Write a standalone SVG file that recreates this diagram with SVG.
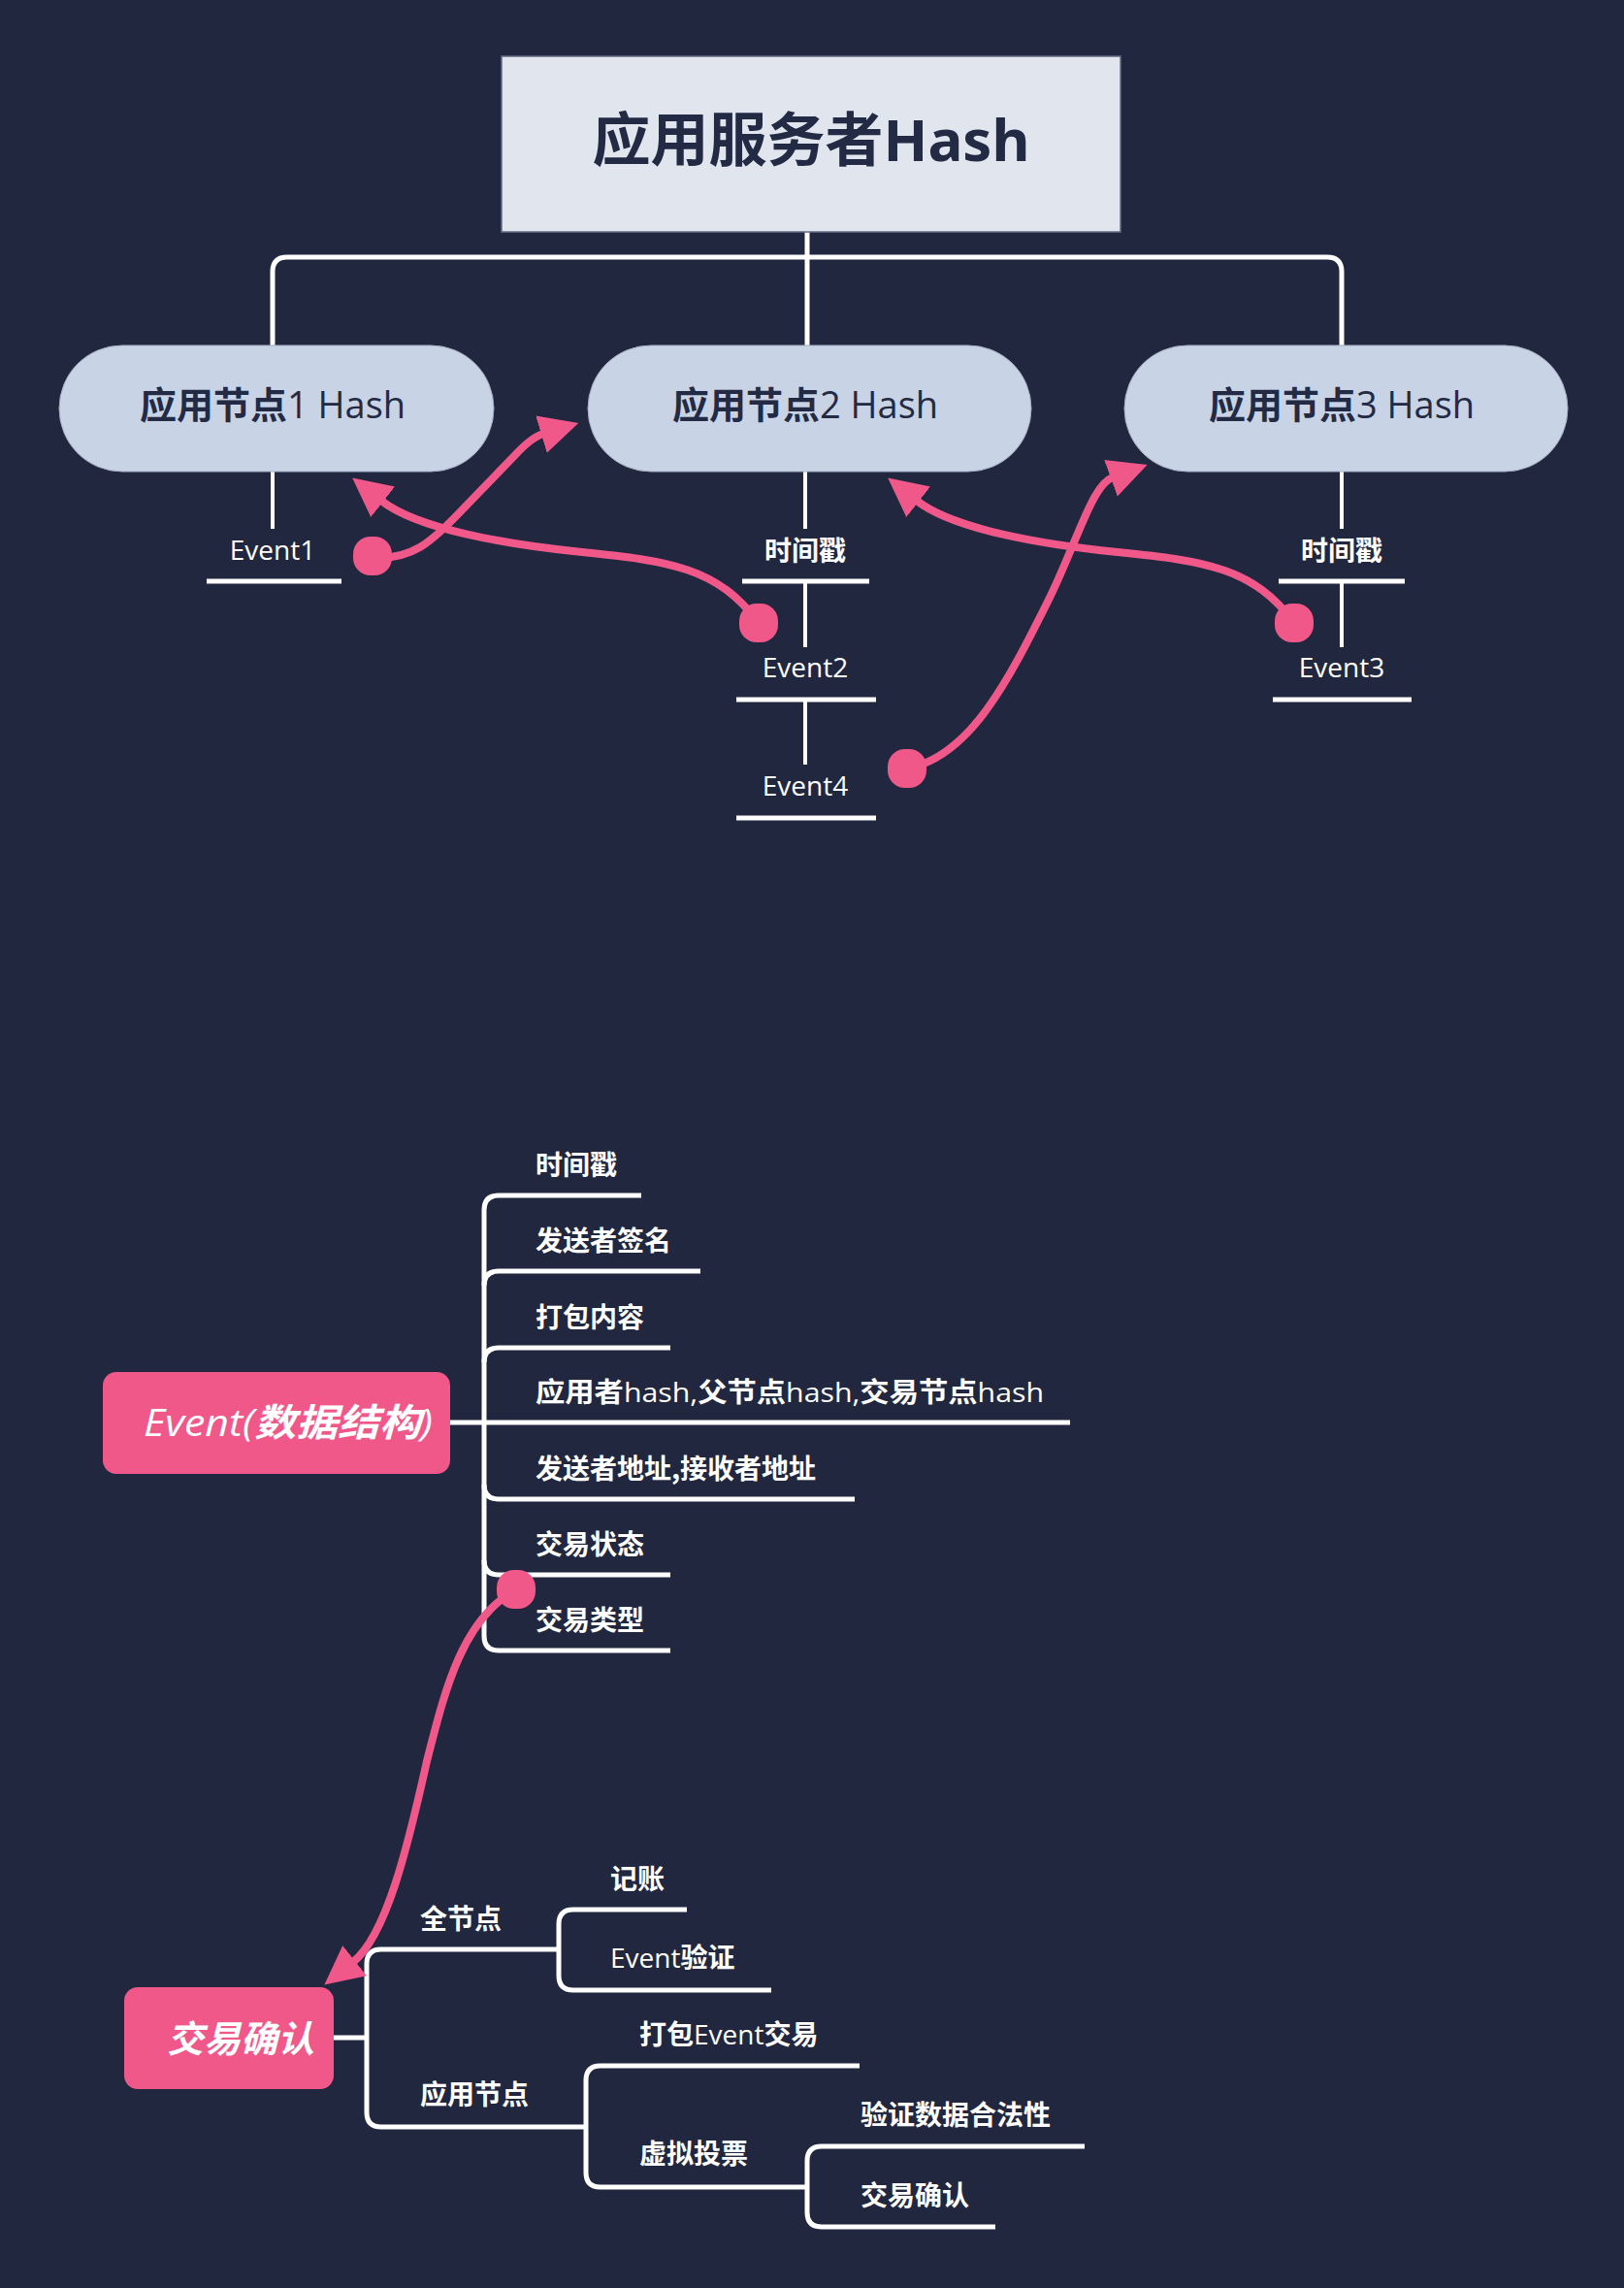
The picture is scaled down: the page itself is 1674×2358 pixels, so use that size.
<svg xmlns="http://www.w3.org/2000/svg" width="1674" height="2358" viewBox="0 0 1674 2358">
<defs>
<style>
.ln{fill:none;stroke:#ffffff;stroke-width:5;stroke-linejoin:round}
.thin{fill:none;stroke:#ffffff;stroke-width:4}
.pk{fill:none;stroke:#f0588a;stroke-width:8;stroke-linecap:round}
.dot{fill:#f0588a}
.cjk{font-family:"Noto Sans CJK SC","Noto Sans",sans-serif;font-weight:700}
.lat{font-family:"Open Sans","Noto Sans CJK SC",sans-serif;font-weight:400}
.wt{fill:#ffffff;font-size:28px}
.dk{fill:#232a44}
</style>
<marker id="ah" markerUnits="userSpaceOnUse" markerWidth="40" markerHeight="40" viewBox="0 0 38 38" refX="2" refY="19" orient="auto">
<path d="M0,0 L38,19 L0,38 z" fill="#f0588a"/>
</marker>
</defs>
<rect x="0" y="0" width="1674" height="2358" fill="#21273e"/>

<g id="connectors">
<path class="ln" d="M832,239 L832,265"/>
<path class="ln" d="M281,356 L281,280 Q281,265 296,265 L1368,265 Q1383,265 1383,280 L1383,356"/>
<path class="ln" d="M832,265 L832,356"/>
<path class="thin" d="M281,486 L281,545"/>
<path class="thin" d="M830,486 L830,545"/>
<path class="thin" d="M1383,486 L1383,545"/>
<path class="thin" d="M830,599 L830,667"/>
<path class="thin" d="M830,721 L830,788"/>
<path class="thin" d="M1383,599 L1383,667"/>
<path class="ln" d="M213,599 L352,599"/>
<path class="ln" d="M765,599 L896,599"/>
<path class="ln" d="M759,721 L903,721"/>
<path class="ln" d="M759,843 L903,843"/>
<path class="ln" d="M1318,599 L1448,599"/>
<path class="ln" d="M1312,721 L1455,721"/>

<path class="ln" d="M464,1466 L1103,1466"/>
<path class="ln" d="M661,1232 L514,1232 Q499,1232 499,1247 L499,1686 Q499,1701 514,1701 L691,1701"/>
<path class="ln" d="M499,1325 Q499,1310 514,1310 L722,1310"/>
<path class="ln" d="M499,1404 Q499,1389 514,1389 L691,1389"/>
<path class="ln" d="M499,1530 Q499,1545 514,1545 L881,1545"/>
<path class="ln" d="M499,1608 Q499,1623 514,1623 L691,1623"/>

<path class="ln" d="M344,2100 L378,2100"/>
<path class="ln" d="M576,2009 L393,2009 Q378,2009 378,2024 L378,2177 Q378,2192 393,2192 L604,2192"/>
<path class="ln" d="M708,1968 L591,1968 Q576,1968 576,1983 L576,2036 Q576,2051 591,2051 L795,2051"/>
<path class="ln" d="M886,2129 L619,2129 Q604,2129 604,2144 L604,2239 Q604,2254 619,2254 L832,2254"/>
<path class="ln" d="M1118,2212 L847,2212 Q832,2212 832,2227 L832,2280 Q832,2295 847,2295 L1026,2295"/>

<path class="pk" marker-end="url(#ah)" d="M384,575 C425,577 445,558 472,530 L530,470 C541,458 550,450 560,447"/>
<path class="pk" marker-end="url(#ah)" d="M782,642 C740,585 690,578 600,569 C520,561 430,545 393,516"/>
<path class="pk" marker-end="url(#ah)" d="M1334,642 C1292,585 1242,578 1152,569 C1072,561 982,545 945,516"/>
<path class="pk" marker-end="url(#ah)" d="M935,792 C1000,780 1040,700 1080,620 C1110,560 1125,500 1147,492"/>
<path class="pk" marker-end="url(#ah)" d="M532,1638 C475,1670 458,1745 440,1815 C420,1905 398,1995 364,2022"/>
<rect class="dot" x="364" y="553" width="40" height="40" rx="18"/>
<rect class="dot" x="762" y="622" width="40" height="40" rx="18"/>
<rect class="dot" x="1314" y="622" width="40" height="40" rx="18"/>
<rect class="dot" x="915" y="772" width="40" height="40" rx="18"/>
<rect class="dot" x="512" y="1618" width="40" height="40" rx="18"/>
</g>

<g id="root">
<rect x="517" y="58" width="638" height="181" fill="#e0e5ee" stroke="#646c84" stroke-width="1.5"/>
<text x="836" y="166" text-anchor="middle" class="cjk dk" font-size="60">应用服务者<tspan font-family="Noto Sans, sans-serif">Hash</tspan></text>
</g>

<g id="node1">
<rect x="61" y="356" width="448" height="130" rx="65" fill="#c8d3e5" stroke="#a3aec3" stroke-width="1"/>
<text x="281" y="431" text-anchor="middle" font-size="38" class="dk"><tspan class="cjk">应用节点</tspan><tspan class="lat">1 Hash</tspan></text>
</g>
<g id="node2">
<rect x="606" y="356" width="457" height="130" rx="65" fill="#c8d3e5" stroke="#a3aec3" stroke-width="1"/>
<text x="830" y="431" text-anchor="middle" font-size="38" class="dk"><tspan class="cjk">应用节点</tspan><tspan class="lat">2 Hash</tspan></text>
</g>
<g id="node3">
<rect x="1159" y="356" width="457" height="130" rx="65" fill="#c8d3e5" stroke="#a3aec3" stroke-width="1"/>
<text x="1383" y="431" text-anchor="middle" font-size="38" class="dk"><tspan class="cjk">应用节点</tspan><tspan class="lat">3 Hash</tspan></text>
</g>

<g id="event1"><text x="281" y="577" text-anchor="middle" class="lat wt">Event1</text></g>
<g id="ts2"><text x="830" y="578" text-anchor="middle" class="cjk wt" font-size="27">时间戳</text></g>
<g id="event2"><text x="830" y="698" text-anchor="middle" class="lat wt">Event2</text></g>
<g id="event4"><text x="830" y="820" text-anchor="middle" class="lat wt">Event4</text></g>
<g id="ts3"><text x="1383" y="578" text-anchor="middle" class="cjk wt" font-size="27">时间戳</text></g>
<g id="event3"><text x="1383" y="698" text-anchor="middle" class="lat wt">Event3</text></g>

<g id="event-struct">
<rect x="106" y="1414" width="358" height="105" rx="14" fill="#f0588a"/>
<text x="148" y="1480" font-size="39" fill="#ffffff" font-style="italic" textLength="298" lengthAdjust="spacingAndGlyphs"><tspan class="lat">Event(</tspan><tspan class="cjk">数据结构</tspan><tspan class="lat">)</tspan></text>
</g>
<g id="f1"><text x="552" y="1211" class="cjk wt">时间戳</text></g>
<g id="f2"><text x="552" y="1289" class="cjk wt">发送者签名</text></g>
<g id="f3"><text x="552" y="1368" class="cjk wt">打包内容</text></g>
<g id="f4"><text x="552" y="1445" class="wt" textLength="524" lengthAdjust="spacingAndGlyphs"><tspan class="cjk">应用者</tspan><tspan class="lat">hash,</tspan><tspan class="cjk">父节点</tspan><tspan class="lat">hash,</tspan><tspan class="cjk">交易节点</tspan><tspan class="lat">hash</tspan></text></g>
<g id="f5"><text x="552" y="1524" class="cjk wt">发送者地址,接收者地址</text></g>
<g id="f6"><text x="552" y="1602" class="cjk wt">交易状态</text></g>
<g id="f7"><text x="552" y="1680" class="cjk wt">交易类型</text></g>

<g id="tx-confirm">
<rect x="128" y="2048" width="216" height="105" rx="14" fill="#f0588a"/>
<text x="172" y="2115" font-size="38" fill="#ffffff" font-style="italic" class="cjk">交易确认</text>
</g>
<g id="fullnode"><text x="433" y="1988" class="cjk wt">全节点</text></g>
<g id="appnode"><text x="433" y="2169" class="cjk wt">应用节点</text></g>
<g id="bookkeeping"><text x="629" y="1947" class="cjk wt">记账</text></g>
<g id="eventverify"><text x="629" y="2028" class="wt"><tspan class="lat">Event</tspan><tspan class="cjk">验证</tspan></text></g>
<g id="pack"><text x="659" y="2107" class="wt"><tspan class="cjk">打包</tspan><tspan class="lat">Event</tspan><tspan class="cjk">交易</tspan></text></g>
<g id="vote"><text x="659" y="2230" class="cjk wt">虚拟投票</text></g>
<g id="verifydata"><text x="887" y="2190" class="cjk wt">验证数据合法性</text></g>
<g id="confirm2"><text x="887" y="2273" class="cjk wt">交易确认</text></g>
</svg>
